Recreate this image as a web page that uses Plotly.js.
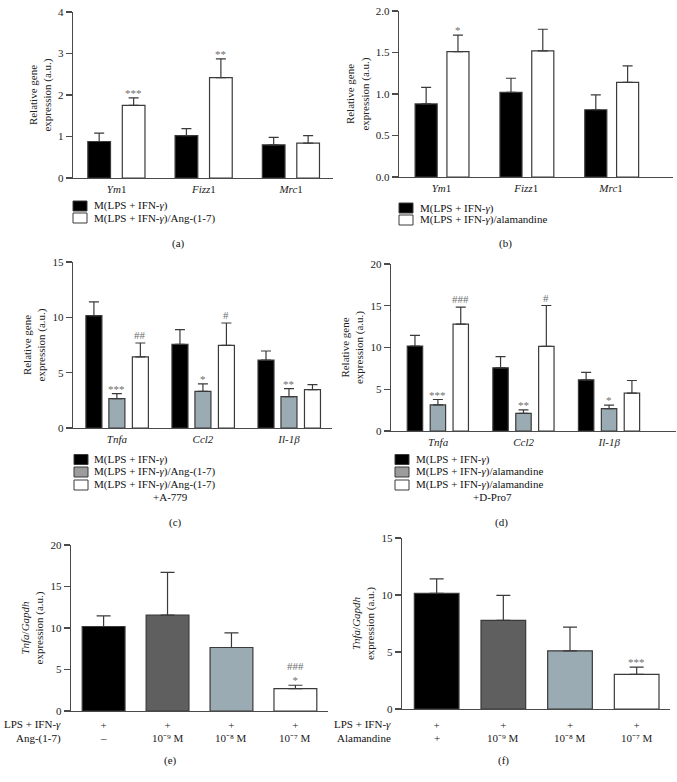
<!DOCTYPE html>
<html>
<head>
<meta charset="utf-8">
<script src="https://cdn.plot.ly/plotly-3.0.1.min.js"></script>
<style>html,body{margin:0;padding:0;background:#fff}#chart{width:677px;height:782px}</style>
</head>
<body>
<div id="chart"></div>
<script>
// ---------- DATA ----------
const genesM2 = ['Ym1', 'Fizz1', 'Mrc1'];
const genesM2Labels = ['<i>Ym</i>1', '<i>Fizz</i>1', '<i>Mrc</i>1'];
const genesM1 = ['Tnfa', 'Ccl2', 'Il-1b'];
const genesM1Labels = ['<i>Tnfa</i>', '<i>Ccl2</i>', '<i>Il-1β</i>'];

// (a)
const aCtrl = [0.88, 1.02, 0.80];
const aCtrlSem = [0.20, 0.17, 0.18];
const aAng = [1.75, 2.42, 0.84];
const aAngSem = [0.18, 0.45, 0.18];
const aAngSig = ['***', '**', ''];
// (b)
const bCtrl = [0.88, 1.02, 0.81];
const bCtrlSem = [0.20, 0.17, 0.18];
const bAlam = [1.51, 1.52, 1.14];
const bAlamSem = [0.20, 0.26, 0.20];
const bAlamSig = ['*', '', ''];
// (c)
const cCtrl = [10.15, 7.56, 6.14];
const cCtrlSem = [1.25, 1.33, 0.82];
const cAng = [2.65, 3.31, 2.83];
const cAngSem = [0.45, 0.67, 0.72];
const cAngSig = ['***', '*', '**'];
const cA779 = [6.42, 7.47, 3.46];
const cA779Sem = [1.26, 2.02, 0.46];
const cA779Sig = ['##', '#', ''];
// (d)
const dCtrl = [10.18, 7.57, 6.13];
const dCtrlSem = [1.28, 1.33, 0.88];
const dAlam = [3.13, 2.12, 2.69];
const dAlamSem = [0.64, 0.41, 0.40];
const dAlamSig = ['***', '**', '*'];
const dDPro = [12.79, 10.14, 4.53];
const dDProSem = [2.04, 4.89, 1.52];
const dDProSig = ['###', '#', ''];
// (e)
const doseGroups = ['g0', 'g1', 'g2', 'g3'];
const eRow1 = ['+', '+', '+', '+'];
const eRow2 = ['–', '10⁻⁹ M', '10⁻⁸ M', '10⁻⁷ M'];
const eVals = [10.18, 11.55, 7.65, 2.70];
const eSem = [1.29, 5.15, 1.77, 0.40];
const eSig = ['', '', '', '###<br>*'];
// (f)
const fRow1 = ['+', '+', '+', '+'];
const fRow2 = ['+', '10⁻⁹ M', '10⁻⁸ M', '10⁻⁷ M'];
const fVals = [10.14, 7.78, 5.10, 3.03];
const fSem = [1.28, 2.18, 2.09, 0.64];
const fSig = ['', '', '', '***'];

// ---------- STYLE ----------
const FONT = 'Liberation Serif, Times New Roman, serif';
const W = 677, H = 782;
const BLACK = '#000000', DARK = '#5f5f5f', LIGHT = '#9aabb3', WHITE = '#ffffff';
const OUTLINE = '#3a3a3a', AXIS = '#4a4a4a', ERR = '#3a3a3a', SIG = '#6e6e6e';
const px = v => v / W;
const py = v => 1 - v / H;

const traces = [];
const annotations = [];
const shapes = [];

function bar(n, cats, vals, sem, color, width, offset) {
  traces.push({
    type: 'bar', x: cats, y: vals, width: width, offset: offset,
    xaxis: 'x' + (n > 1 ? n : ''), yaxis: 'y' + (n > 1 ? n : ''),
    marker: {color: color, line: {color: OUTLINE, width: 1.2}},
    error_y: {type: 'data', symmetric: false, array: sem, arrayminus: vals.map(() => 0),
              color: ERR, thickness: 1.2, width: 5},
    hoverinfo: 'y', showlegend: false
  });
}
function sig(n, vals, sem, labels, width, offset, yshift) {
  labels.forEach((t, i) => {
    if (!t) return;
    const endsStar = t[t.length - 1] === '*';
    annotations.push({
      xref: 'x' + (n > 1 ? n : ''), yref: 'y' + (n > 1 ? n : ''),
      x: i + offset + width / 2, y: vals[i] + sem[i],
      text: t, showarrow: false, xanchor: 'center', yanchor: 'bottom',
      yshift: (yshift !== undefined ? yshift : (endsStar ? -3 : 0)),
      font: {family: FONT, size: 11, color: SIG}
    });
  });
}
function legendBox(items, x0, x1, textX, rows) {
  items.forEach((it, i) => {
    const c = rows[i];
    shapes.push({type: 'rect', xref: 'paper', yref: 'paper',
      x0: px(x0), x1: px(x1), y0: py(c + 5), y1: py(c - 5),
      fillcolor: it.color, line: {color: OUTLINE, width: 1}});
    annotations.push({xref: 'paper', yref: 'paper', x: px(textX), y: py(c),
      xanchor: 'left', yanchor: 'middle', showarrow: false, text: it.label,
      font: {family: FONT, size: 11, color: '#111'}});
  });
}
function textAt(x, y, t, anchor) {
  annotations.push({xref: 'paper', yref: 'paper', x: px(x), y: py(y),
    xanchor: anchor || 'center', yanchor: 'middle', showarrow: false, text: t,
    font: {family: FONT, size: 11, color: '#111'}});
}
// second row of treatment labels, placed at the category positions of the x axis
function rowLabels(xref, labels, y) {
  labels.forEach((t, i) => {
    annotations.push({xref: xref, yref: 'paper', x: i, y: py(y),
      xanchor: 'center', yanchor: 'middle', showarrow: false, text: t,
      font: {family: FONT, size: 11, color: '#222'}});
  });
}

// (a)
const wA = 0.26;
bar(1, genesM2, aCtrl, aCtrlSem, BLACK, wA, -0.33);
bar(1, genesM2, aAng, aAngSem, WHITE, wA, 0.065);
sig(1, aAng, aAngSem, aAngSig, wA, 0.065);
// (b)
bar(2, genesM2, bCtrl, bCtrlSem, BLACK, wA, -0.31);
bar(2, genesM2, bAlam, bAlamSem, WHITE, wA, 0.065);
sig(2, bAlam, bAlamSem, bAlamSig, wA, 0.065);
// (c)
const wC = 0.186;
bar(3, genesM1, cCtrl, cCtrlSem, BLACK, wC, -0.36);
bar(3, genesM1, cAng, cAngSem, LIGHT, wC, -0.093);
bar(3, genesM1, cA779, cA779Sem, WHITE, wC, 0.18);
sig(3, cAng, cAngSem, cAngSig, wC, -0.093);
sig(3, cA779, cA779Sem, cA779Sig, wC, 0.18);
// (d)
const wD = 0.18;
bar(4, genesM1, dCtrl, dCtrlSem, BLACK, wD, -0.36);
bar(4, genesM1, dAlam, dAlamSem, LIGHT, wD, -0.092);
bar(4, genesM1, dDPro, dDProSem, WHITE, wD, 0.175);
sig(4, dAlam, dAlamSem, dAlamSig, wD, -0.092);
sig(4, dDPro, dDProSem, dDProSig, wD, 0.175);
// (e)
const doseColors = [BLACK, DARK, LIGHT, WHITE];
const wE = 0.67;
traces.push({type: 'bar', x: doseGroups, y: eVals, width: wE, offset: -wE / 2, xaxis: 'x5', yaxis: 'y5',
  marker: {color: doseColors, line: {color: OUTLINE, width: 1.2}},
  error_y: {type: 'data', symmetric: false, array: eSem, arrayminus: eVals.map(() => 0), color: ERR, thickness: 1.2, width: 7},
  showlegend: false, hoverinfo: 'y'});
sig(5, eVals, eSem, eSig, wE, -wE / 2);
rowLabels('x5', eRow2, 738);
// (f)
traces.push({type: 'bar', x: doseGroups, y: fVals, width: wE, offset: -wE / 2, xaxis: 'x6', yaxis: 'y6',
  marker: {color: doseColors, line: {color: OUTLINE, width: 1.2}},
  error_y: {type: 'data', symmetric: false, array: fSem, arrayminus: fVals.map(() => 0), color: ERR, thickness: 1.2, width: 7},
  showlegend: false, hoverinfo: 'y'});
sig(6, fVals, fSem, fSig, wE, -wE / 2);
rowLabels('x6', fRow2, 738);

// legends
legendBox([{color: BLACK, label: 'M(LPS + IFN-<i>γ</i>)'}, {color: WHITE, label: 'M(LPS + IFN-<i>γ</i>)/Ang-(1-7)'}], 73, 87, 92, [206, 218]);
legendBox([{color: BLACK, label: 'M(LPS + IFN-<i>γ</i>)'}, {color: WHITE, label: 'M(LPS + IFN-<i>γ</i>)/alamandine'}], 399, 413, 418, [208, 220]);
legendBox([{color: BLACK, label: 'M(LPS + IFN-<i>γ</i>)'}, {color: '#9c9c9c', label: 'M(LPS + IFN-<i>γ</i>)/Ang-(1-7)'}, {color: WHITE, label: 'M(LPS + IFN-<i>γ</i>)/Ang-(1-7)'}], 74, 88, 92, [459.5, 472, 485]);
textAt(170, 496.5, '+A-779');
legendBox([{color: BLACK, label: 'M(LPS + IFN-<i>γ</i>)'}, {color: '#9c9c9c', label: 'M(LPS + IFN-<i>γ</i>)/alamandine'}, {color: WHITE, label: 'M(LPS + IFN-<i>γ</i>)/alamandine'}], 395, 409, 414, [459.5, 472, 485]);
textAt(492, 496.5, '+D-Pro7');

// panel letters
textAt(178, 243, '(a)');
textAt(505, 243, '(b)');
textAt(175, 522, '(c)');
textAt(501, 522, '(d)');
textAt(170, 760, '(e)');
textAt(503, 760, '(f)');

// row labels (e) (f)
textAt(63, 724, 'LPS + IFN-<i>γ</i>', 'right');
textAt(63, 738, 'Ang-(1-7)', 'right');
textAt(393, 724, 'LPS + IFN-<i>γ</i>', 'right');
textAt(393, 738, 'Alamandine', 'right');

// ---------- AXES ----------
const tickFont = {family: FONT, size: 11, color: '#222'};
function xAxis(n, x0, x1, cats, labels, range, pad) {
  return {
    domain: [px(x0), px(x1)], anchor: 'y' + (n > 1 ? n : ''), type: 'category',
    range: range, tickmode: 'array', tickvals: cats, ticktext: labels,
    showline: true, linecolor: AXIS, linewidth: 1.2,
    ticks: 'outside', ticklen: pad, tickcolor: 'rgba(0,0,0,0)', tickwidth: 1,
    showgrid: false, zeroline: false,
    tickfont: tickFont, fixedrange: true, automargin: false
  };
}
function yAxis(n, yTop, yBot, range, dtick, fmt, title) {
  return {
    domain: [py(yBot), py(yTop)], anchor: 'x' + (n > 1 ? n : ''), range: range,
    dtick: dtick, tick0: 0, tickformat: fmt, showline: true, linecolor: AXIS, linewidth: 1.2,
    ticks: 'outside', ticklen: 6, tickcolor: AXIS, tickwidth: 1.2, showgrid: false, zeroline: false,
    tickfont: tickFont, fixedrange: true, automargin: false,
    title: {text: title, font: {family: FONT, size: 11, color: '#222'}, standoff: 4}
  };
}
const yTitle = 'Relative gene<br>expression (a.u.)';
const yTitleTnf = '<i>Tnfa</i>/<i>Gapdh</i><br>expression (a.u.)';

const layout = {
  width: W, height: H, margin: {l: 0, r: 0, t: 0, b: 0},
  paper_bgcolor: '#fff', plot_bgcolor: '#fff', showlegend: false, barmode: 'overlay',
  font: {family: FONT, size: 11, color: '#222'},
  xaxis: xAxis(1, 73, 333, genesM2, genesM2Labels, [-0.5, 2.48], 1),
  yaxis: yAxis(1, 12, 178, [0, 4], 1, 'd', yTitle),
  xaxis2: xAxis(2, 399, 673, genesM2, genesM2Labels, [-0.5, 2.73], 1),
  yaxis2: yAxis(2, 11, 177, [0, 2], 0.5, '.1f', yTitle),
  xaxis3: xAxis(3, 73, 332, genesM1, genesM1Labels, [-0.51, 2.5], 1),
  yaxis3: yAxis(3, 262, 428, [0, 15], 5, 'd', yTitle),
  xaxis4: xAxis(4, 391, 676, genesM1, genesM1Labels, [-0.55, 2.78], 1),
  yaxis4: yAxis(4, 264, 431, [0, 20], 5, 'd', yTitle),
  xaxis5: xAxis(5, 71, 328, doseGroups, eRow1, [-0.51, 3.51], 4),
  yaxis5: yAxis(5, 545, 711, [0, 20], 5, 'd', yTitleTnf),
  xaxis6: xAxis(6, 402, 670, doseGroups, fRow1, [-0.52, 3.5], 6),
  yaxis6: yAxis(6, 538, 709, [0, 15], 5, 'd', yTitleTnf),
  annotations: annotations, shapes: shapes
};

Plotly.newPlot('chart', traces, layout, {displayModeBar: false, staticPlot: true});
</script>
</body>
</html>
